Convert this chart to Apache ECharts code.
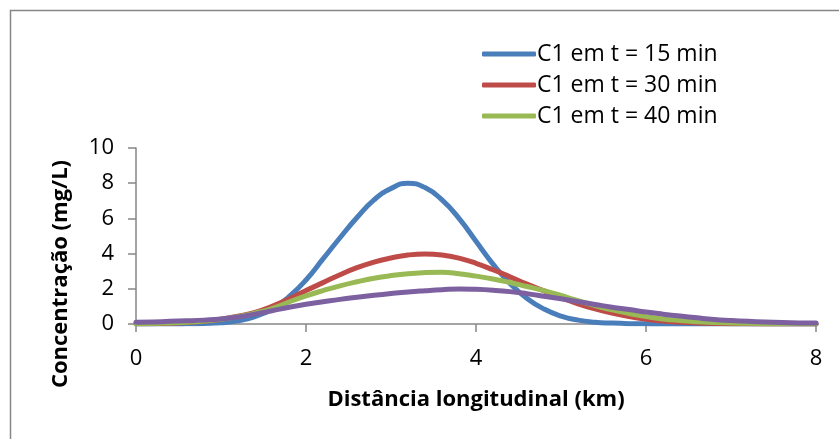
<!DOCTYPE html>
<html>
<head>
<meta charset="utf-8">
<script src="https://cdn.jsdelivr.net/npm/echarts@6/dist/echarts.min.js"></script>
<style>
  html, body { margin: 0; padding: 0; background: #fff; }
  #chart { width: 839px; height: 439px; }
</style>
</head>
<body>
<div id="chart"></div>
<script>
// distância (km), passo de 0,2 km
const distancia = [0, 0.2, 0.4, 0.6, 0.8, 1, 1.2, 1.4, 1.6, 1.8, 2, 2.2, 2.4, 2.6, 2.8, 3, 3.2, 3.4, 3.6, 3.8,
  4, 4.2, 4.4, 4.6, 4.8, 5, 5.2, 5.4, 5.6, 5.8, 6, 6.2, 6.4, 6.6, 6.8, 7, 7.2, 7.4, 7.6, 7.8, 8];

const c15 = [0, 0, 0, 0.01, 0.03, 0.07, 0.18, 0.42, 0.85, 1.55, 2.5, 3.7, 4.9, 6.05, 7.05, 7.7, 8.0, 7.75, 7.05, 6.0,
  4.7, 3.4, 2.3, 1.45, 0.85, 0.45, 0.22, 0.1, 0.05, 0.02, 0.01, 0, 0, 0, 0, 0, 0, 0, 0, 0, 0];
const c30 = [0.01, 0.02, 0.04, 0.08, 0.15, 0.27, 0.44, 0.66, 1.0, 1.42, 1.9, 2.35, 2.8, 3.2, 3.52, 3.75, 3.92, 3.98, 3.92, 3.74,
  3.45, 3.08, 2.68, 2.27, 1.88, 1.5, 1.15, 0.86, 0.62, 0.42, 0.27, 0.17, 0.1, 0.06, 0.035, 0.02, 0.01, 0, 0, 0, 0];
const c40 = [0.02, 0.03, 0.06, 0.1, 0.17, 0.27, 0.42, 0.62, 0.88, 1.25, 1.6, 1.9, 2.17, 2.4, 2.6, 2.75, 2.86, 2.92, 2.94, 2.86,
  2.72, 2.56, 2.36, 2.13, 1.9, 1.62, 1.32, 1.05, 0.8, 0.6, 0.42, 0.29, 0.2, 0.13, 0.09, 0.06, 0.04, 0.02, 0.01, 0.01, 0];
const c60 = [0.1, 0.12, 0.15, 0.18, 0.22, 0.28, 0.4, 0.56, 0.75, 0.95, 1.12, 1.26, 1.4, 1.52, 1.63, 1.73, 1.82, 1.89, 1.95, 1.99,
  1.97, 1.92, 1.84, 1.72, 1.58, 1.43, 1.27, 1.11, 0.95, 0.82, 0.68, 0.56, 0.45, 0.35, 0.26, 0.2, 0.15, 0.11, 0.08, 0.06, 0.05];

const nomes = ['C1 em t = 15 min', 'C1 em t = 30 min', 'C1 em t = 40 min', 'C1 em t = 60 min'];
const cores = ['#4A7EBB', '#BE4B48', '#98B954', '#7D60A0'];
const valoresY = [c15, c30, c40, c60];

const fonte = 'Open Sans, Liberation Sans, sans-serif';
const cinza = '#868686';

const chart = echarts.init(document.getElementById('chart'), null, { renderer: 'canvas' });

const series = valoresY.map((vals, i) => ({
  name: nomes[i],
  type: 'line',
  smooth: 0.5,
  showSymbol: false,
  symbol: 'none',
  data: distancia.map((x, j) => [x, vals[j]]),
  lineStyle: { color: cores[i], width: 5, cap: 'round', join: 'round' },
  itemStyle: { color: cores[i] },
  z: 2 + i
}));

chart.setOption({
  animation: false,
  backgroundColor: '#fff',
  graphic: [{
    type: 'rect',
    shape: { x: 10.5, y: 10.5, width: 860, height: 460 },
    style: { fill: 'none', stroke: cinza, lineWidth: 1.5 },
    silent: true
  }],
  legend: {
    orient: 'vertical',
    left: 477,
    top: 37,
    data: nomes.slice(0, 3),
    icon: 'roundRect',
    itemWidth: 54,
    itemHeight: 5,
    itemGap: 7,
    textStyle: { fontFamily: fonte, fontSize: 23, color: '#000', lineHeight: 24, padding: [0, 0, 0, -4] }
  },
  grid: { left: 136, top: 148, width: 680, height: 176, containLabel: false },
  xAxis: {
    type: 'value',
    min: 0, max: 8, interval: 2,
    name: 'Distância longitudinal (km)',
    nameLocation: 'middle',
    nameGap: 65,
    nameTextStyle: { fontFamily: fonte, fontSize: 22, fontWeight: 'bold', color: '#000' },
    axisLine: { show: true, lineStyle: { color: cinza, width: 1.5 } },
    axisTick: { show: true, length: 8, lineStyle: { color: cinza, width: 1.5 } },
    axisLabel: { fontFamily: fonte, fontSize: 22, color: '#000', margin: 24 },
    splitLine: { show: false }
  },
  yAxis: {
    type: 'value',
    min: 0, max: 10, interval: 2,
    name: 'Concentração (mg/L)',
    nameLocation: 'middle',
    nameRotate: 90,
    nameGap: 64,
    nameTextStyle: { fontFamily: fonte, fontSize: 22, fontWeight: 'bold', color: '#000', padding: [0, 76, 0, 0] },
    axisLine: { show: true, lineStyle: { color: cinza, width: 1.5 } },
    axisTick: { show: true, length: 8, lineStyle: { color: cinza, width: 1.5 } },
    axisLabel: { fontFamily: fonte, fontSize: 22, color: '#000', margin: 22 },
    splitLine: { show: false }
  },
  series: series
});
</script>
</body>
</html>
